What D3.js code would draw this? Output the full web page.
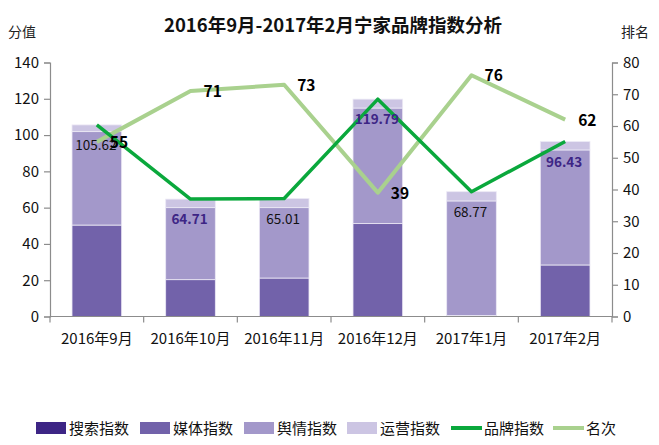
<!DOCTYPE html>
<html><head><meta charset="utf-8">
<script src="https://cdn.jsdelivr.net/npm/d3@7/dist/d3.min.js"></script>
<style>
html,body{margin:0;padding:0;background:#fff;}
svg{display:block;font-family:"Noto Sans CJK SC","Noto Sans",sans-serif;}
</style></head>
<body><svg id="c" width="659" height="445"></svg>
<script>
const categories = ["2016年9月","2016年10月","2016年11月","2016年12月","2017年1月","2017年2月"];
const searchIdx  = [0, 0, 0, 0, 0, 0];
const mediaIdx   = [50.4, 20.3, 21.2, 51.2, 0.6, 28.4];
const opinionIdx = [51.5, 39.7, 38.8, 63.7, 63.1, 63.4];
const opsIdx     = [3.7, 4.7, 5.0, 4.9, 5.1, 4.6];
const brandIdx   = [105.62, 64.71, 65.01, 119.79, 68.77, 96.43];
const rankVals   = [55, 71, 73, 39, 76, 62];
const leftTicks  = [0, 20, 40, 60, 80, 100, 120, 140];
const rightTicks = [0, 10, 20, 30, 40, 50, 60, 70, 80];
const seriesNames = ["搜索指数","媒体指数","舆情指数","运营指数","品牌指数","名次"];

const colors = {search:"#3d2585", media:"#7262aa", opinion:"#a398ca", ops:"#ccc5e3", brand:"#0aa83c", rank:"#a9d18e"};
const boldLabels = new Set([1,3,5]);

const svg = d3.select("#c");
const L = 50, R = 612, T = 62.5, B = 316.5;

const x = d3.scaleBand().domain(categories).range([L, R]).paddingInner(0.47).paddingOuter(0.235);
const xc = d3.scaleBand().domain(categories).range([L, R]);
const yL = d3.scaleLinear().domain([0, 140]).range([B, T]);
const yR = d3.scaleLinear().domain([0, 80]).range([B, T]);

// title
svg.append("text").attr("x", 333).attr("y", 32).attr("text-anchor","middle")
  .attr("font-size", 18.5).attr("font-weight","bold").attr("fill","#111")
  .text("2016年9月-2017年2月宁家品牌指数分析");
svg.append("text").attr("x", 8).attr("y", 37).attr("font-size", 14).attr("fill","#222").text("分值");
svg.append("text").attr("x", 621).attr("y", 37).attr("font-size", 14).attr("fill","#222").text("排名");

// stacked bars
const rows = categories.map((c,i)=>({cat:c, search:searchIdx[i], media:mediaIdx[i], opinion:opinionIdx[i], ops:opsIdx[i]}));
const keys = ["search","media","opinion","ops"];
const stacked = d3.stack().keys(keys)(rows);
const gBars = svg.append("g");
stacked.forEach(layer=>{
  gBars.selectAll(null).data(layer).enter().append("rect")
    .attr("x", d=>x(d.data.cat))
    .attr("width", x.bandwidth())
    .attr("y", d=>yL(d[1]))
    .attr("height", d=>Math.max(0, yL(d[0]) - yL(d[1])))
    .attr("fill", colors[layer.key])
    .attr("stroke", "#ece9f5").attr("stroke-width", 0.8);
});

// axes
const axisColor = "#8c8c8c";
const gl = svg.append("g").attr("transform",`translate(${L},0)`)
  .call(d3.axisLeft(yL).tickValues(leftTicks).tickSize(6).tickPadding(5));
const gr = svg.append("g").attr("transform",`translate(${R},0)`)
  .call(d3.axisRight(yR).tickValues(rightTicks).tickSize(6).tickPadding(5));
const gx = svg.append("g").attr("transform",`translate(0,${B})`)
  .call(d3.axisBottom(xc).tickSize(0).tickPadding(17));
// band boundary ticks on x axis
svg.append("g").selectAll("line").data(categories.concat(["__end"])).enter().append("line")
  .attr("x1", (d,i)=> i < categories.length ? xc(d) : R)
  .attr("x2", (d,i)=> i < categories.length ? xc(d) : R)
  .attr("y1", B).attr("y2", B+6).attr("stroke", axisColor).attr("stroke-width",1.2);
[gl, gr, gx].forEach(g=>{
  g.selectAll(".domain").attr("stroke", axisColor).attr("stroke-width",1.2);
  g.selectAll(".tick line").attr("stroke", axisColor).attr("stroke-width",1.2);
  g.selectAll("text").attr("fill","#111").attr("font-size",15).attr("font-family","Noto Sans CJK SC, Noto Sans, sans-serif");
});
gx.select(".domain").attr("d", `M${L},0H${R}`);

// lines
const cx = i => xc(categories[i]) + xc.bandwidth()/2;
const brandLine = d3.line().x((d,i)=>cx(i)).y(d=>yL(d));
const rankLine = d3.line().x((d,i)=>cx(i)).y(d=>yR(d));
svg.append("path").attr("d", rankLine(rankVals)).attr("fill","none")
  .attr("stroke", colors.rank).attr("stroke-width", 4).attr("stroke-linejoin","round");
svg.append("path").attr("d", brandLine(brandIdx)).attr("fill","none")
  .attr("stroke", colors.brand).attr("stroke-width", 3.5).attr("stroke-linejoin","round");

// bar total labels
svg.append("g").selectAll("text").data(brandIdx).enter().append("text")
  .attr("x", (d,i)=>cx(i) - 1)
  .attr("y", d=>yL(d) + 25)
  .attr("text-anchor","middle")
  .attr("font-size", 13.5)
  .attr("font-weight", (d,i)=> boldLabels.has(i) ? "bold" : "normal")
  .attr("fill", (d,i)=> boldLabels.has(i) ? "#3d2585" : "#111")
  .text(d=>d.toFixed(2));

// rank labels
svg.append("g").selectAll("text").data(rankVals).enter().append("text")
  .attr("x", (d,i)=>cx(i) + 13)
  .attr("y", d=>yR(d) + 6)
  .attr("font-size", 15.5).attr("font-weight","bold").attr("fill","#000")
  .text(d=>d);

// legend
const legendX = [36, 140, 244, 347, 451, 553];
const legendKinds = ["search","media","opinion","ops","brand","rank"];
const ly = 428;
const lg = svg.append("g");
legendKinds.forEach((k,i)=>{
  if (k === "brand" || k === "rank") {
    lg.append("line").attr("x1", legendX[i]).attr("x2", legendX[i]+31)
      .attr("y1", ly).attr("y2", ly).attr("stroke", colors[k]).attr("stroke-width", 4);
  } else {
    lg.append("rect").attr("x", legendX[i]).attr("y", ly-6).attr("width", 30).attr("height", 12)
      .attr("fill", colors[k]);
  }
  lg.append("text").attr("x", legendX[i]+33).attr("y", ly+5.5)
    .attr("font-size", 15).attr("fill","#111").text(seriesNames[i]);
});
</script></body></html>
